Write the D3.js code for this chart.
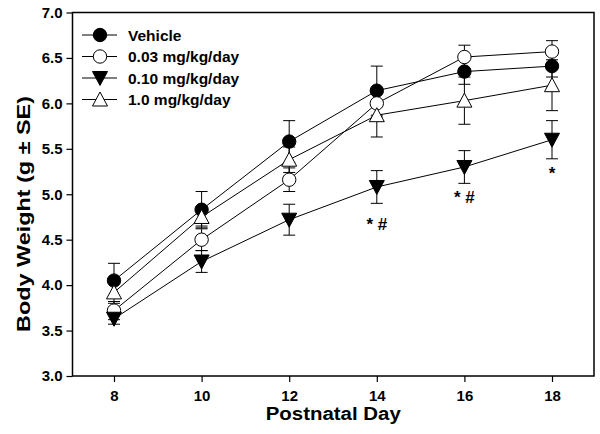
<!DOCTYPE html>
<html><head><meta charset="utf-8">
<script src="https://cdn.jsdelivr.net/npm/d3@7"></script>
<style>body{margin:0;background:#fff}svg{display:block}text{font-family:"Liberation Sans",Arial,sans-serif;font-weight:bold;fill:#000}</style>
</head><body><svg id="c" width="600" height="434"></svg>
<script>
const days = [8, 10, 12, 14, 16, 18];
const seriesNames = ["Vehicle", "0.03 mg/kg/day", "0.10 mg/kg/day", "1.0 mg/kg/day"];
const vehicle = [4.05, 4.83, 5.58, 6.14, 6.35, 6.41];
const vehicleSE = [0.19, 0.2, 0.23, 0.27, 0.14, 0.12];
const dose003 = [3.72, 4.50, 5.16, 6.00, 6.51, 6.57];
const dose003SE = [0.1, 0.12, 0.13, 0.15, 0.13, 0.12];
const dose010 = [3.63, 4.26, 4.72, 5.08, 5.30, 5.60];
const dose010SE = [0.06, 0.12, 0.17, 0.18, 0.18, 0.21];
const dose10 = [3.92, 4.75, 5.38, 5.87, 6.03, 6.20];
const dose10SE = [0.12, 0.1, 0.14, 0.24, 0.26, 0.28];
const yTicks = [3.0, 3.5, 4.0, 4.5, 5.0, 5.5, 6.0, 6.5, 7.0];
const xTicks = [8, 10, 12, 14, 16, 18];
const annotations = [{day: 14, text: "* #"}, {day: 16, text: "* #"}, {day: 18, text: "*"}];
const annotationY = [4.66, 4.95, 5.22];

const series = [
  {name: seriesNames[0], v: vehicle, se: vehicleSE, shape: "circle", fill: "#000"},
  {name: seriesNames[1], v: dose003, se: dose003SE, shape: "circle", fill: "#fff"},
  {name: seriesNames[2], v: dose010, se: dose010SE, shape: "down", fill: "#000"},
  {name: seriesNames[3], v: dose10, se: dose10SE, shape: "up", fill: "#fff"}
];

const svg = d3.select("#c");
const L = 72.5, R = 594, T = 12.5, B = 376;
const x = d3.scaleLinear().domain([8, 18]).range([114, 552]);
const y = d3.scaleLinear().domain([3, 7]).range([B, T]);

function marker(g, shape, fill, cx, cy) {
  if (shape === "circle") {
    g.append("circle").attr("cx", cx).attr("cy", cy).attr("r", 6.7)
      .attr("fill", fill).attr("stroke", "#000").attr("stroke-width", 1);
  } else {
    const w = 7.5, h = 6.5;
    const pts = shape === "up"
      ? [[cx - w, cy + h], [cx + w, cy + h], [cx, cy - h - 1]]
      : [[cx - w, cy - h], [cx + w, cy - h], [cx, cy + h + 1]];
    g.append("polygon").attr("points", pts.map(p => p.join(",")).join(" "))
      .attr("fill", fill).attr("stroke", "#000").attr("stroke-width", 1);
  }
}

// axes
const yAxis = d3.axisLeft(y).tickValues(yTicks).tickFormat(d3.format(".1f")).tickSize(6).tickPadding(4);
const xAxis = d3.axisBottom(x).tickValues(xTicks).tickFormat(d3.format("d")).tickSize(6).tickPadding(8);
const ya = svg.append("g").attr("transform", `translate(${L},0)`).call(yAxis);
const xa = svg.append("g").attr("transform", `translate(0,${B})`).call(xAxis);
[ya, xa].forEach(a => {
  a.select(".domain").remove();
  a.selectAll("line").attr("stroke", "#000").attr("stroke-width", 1.2);
  a.selectAll("text").attr("font-size", 15).attr("font-family", "Liberation Sans, Arial, sans-serif").attr("font-weight", "bold");
});
svg.append("rect").attr("x", L).attr("y", T).attr("width", R - L).attr("height", B - T)
  .attr("fill", "none").attr("stroke", "#000").attr("stroke-width", 1.5);

// error bars
const eb = svg.append("g");
series.forEach(s => {
  days.forEach((d, i) => {
    const cx = x(d), y1 = y(s.v[i] + s.se[i]), y2 = y(s.v[i] - s.se[i]);
    eb.append("line").attr("x1", cx).attr("x2", cx).attr("y1", y1).attr("y2", y2).attr("stroke", "#000").attr("stroke-width", 1);
    [y1, y2].forEach(yy => eb.append("line").attr("x1", cx - 6).attr("x2", cx + 6).attr("y1", yy).attr("y2", yy).attr("stroke", "#000").attr("stroke-width", 1));
  });
});
// lines
const line = d3.line().x((d, i) => x(days[i])).y(d => y(d));
series.forEach(s => {
  svg.append("path").attr("d", line(s.v)).attr("fill", "none").attr("stroke", "#000").attr("stroke-width", 1);
});
// markers
const mk = svg.append("g");
series.forEach(s => days.forEach((d, i) => marker(mk, s.shape, s.fill, x(d), y(s.v[i]))));

// annotations
annotations.forEach((a, i) => {
  svg.append("text").attr("x", x(a.day)).attr("y", y(annotationY[i])).attr("text-anchor", "middle")
    .attr("dominant-baseline", "middle").attr("font-size", 17).text(a.text);
});

// legend
const lg = svg.append("g");
series.forEach((s, i) => {
  const ly = 35 + i * 21.5;
  lg.append("line").attr("x1", 82).attr("x2", 117).attr("y1", ly).attr("y2", ly).attr("stroke", "#000").attr("stroke-width", 1);
  marker(lg, s.shape, s.fill, 100, ly);
  lg.append("text").attr("x", 128).attr("y", ly).attr("dominant-baseline", "central").attr("font-size", 15.5).text(s.name);
});

// axis titles
svg.append("text").attr("x", (L + R) / 2).attr("y", 420).attr("text-anchor", "middle").attr("font-size", 18)
  .attr("textLength", 135).attr("lengthAdjust", "spacingAndGlyphs").text("Postnatal Day");
svg.append("text").attr("transform", `translate(30,214) rotate(-90)`).attr("text-anchor", "middle")
  .attr("font-size", 18).attr("textLength", 236).attr("lengthAdjust", "spacingAndGlyphs").text("Body Weight (g ± SE)");
</script></body></html>
